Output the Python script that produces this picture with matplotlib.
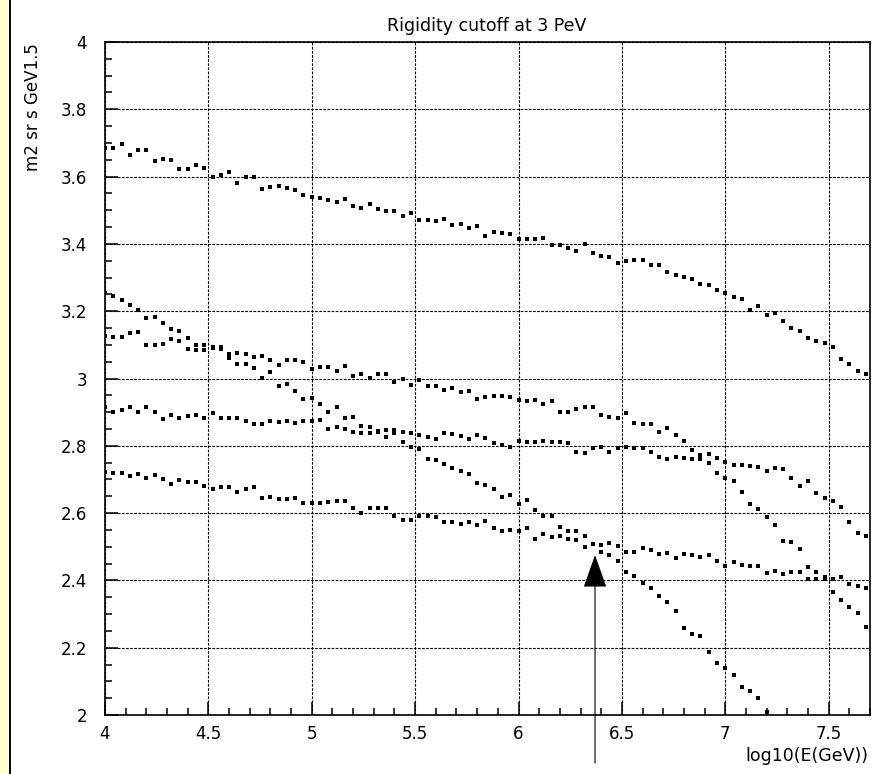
import numpy as np
import matplotlib
matplotlib.use("Agg")
from matplotlib import pyplot as plt
from matplotlib.patches import Rectangle, FancyArrowPatch
from matplotlib.lines import Line2D
from matplotlib.ticker import MultipleLocator

# bin centres in log10(E/GeV), 0.04 wide, starting at 4.0
n_bins = 93
log_e = np.round(4.0 + 0.04 * np.arange(n_bins), 2)

# five curves of dots, one value per bin
curve_a = [3.684, 3.684, 3.696, 3.665, 3.678, 3.678, 3.645, 3.653, 3.648, 3.623,
           3.623, 3.634, 3.627, 3.599, 3.606, 3.613, 3.581, 3.598, 3.598, 3.563,
           3.570, 3.573, 3.565, 3.559, 3.544, 3.539, 3.535, 3.531, 3.524, 3.534,
           3.512, 3.507, 3.519, 3.504, 3.497, 3.497, 3.482, 3.492, 3.470, 3.470,
           3.469, 3.475, 3.456, 3.459, 3.446, 3.453, 3.423, 3.436, 3.433, 3.430,
           3.414, 3.415, 3.416, 3.417, 3.396, 3.396, 3.387, 3.379, 3.399, 3.372,
           3.364, 3.362, 3.342, 3.348, 3.351, 3.353, 3.337, 3.337, 3.316, 3.308,
           3.301, 3.295, 3.282, 3.278, 3.263, 3.253, 3.242, 3.237, 3.204, 3.215,
           3.190, 3.196, 3.171, 3.149, 3.142, 3.121, 3.112, 3.105, 3.095, 3.058,
           3.043, 3.022, 3.013]

curve_b = [3.253, 3.246, 3.233, 3.218, 3.203, 3.179, 3.183, 3.166, 3.148, 3.142,
           3.087, 3.085, 3.085, 3.092, 3.089, 3.060, 3.043, 3.042, 3.032, 3.002,
           3.018, 2.979, 2.983, 2.964, 2.938, 2.943, 2.923, 2.899, 2.916, 2.884,
           2.887, 2.860, 2.855, 2.845, 2.847, 2.847, 2.812, 2.797, 2.790, 2.761,
           2.757, 2.746, 2.733, 2.725, 2.716, 2.689, 2.684, 2.672, 2.647, 2.654,
           2.627, 2.639, 2.609, 2.592, 2.591, 2.560, 2.548, 2.547, 2.533, 2.507,
           2.483, 2.476, 2.459, 2.424, 2.414, 2.393, 2.377, 2.355, 2.335, 2.310,
           2.260, 2.241, 2.235, 2.186, 2.156, 2.141, 2.119, 2.084, 2.072, 2.052,
           2.008]

curve_c = [3.126, 3.122, 3.122, 3.134, 3.139, 3.101, 3.101, 3.103, 3.116, 3.112,
           3.120, 3.099, 3.101, 3.095, 3.095, 3.073, 3.075, 3.072, 3.063, 3.067,
           3.055, 3.040, 3.054, 3.054, 3.048, 3.027, 3.035, 3.035, 3.023, 3.038,
           3.008, 3.013, 3.002, 3.013, 3.013, 2.991, 2.998, 2.981, 2.996, 2.979,
           2.978, 2.966, 2.971, 2.961, 2.964, 2.938, 2.946, 2.949, 2.949, 2.946,
           2.936, 2.934, 2.936, 2.923, 2.934, 2.901, 2.899, 2.908, 2.916, 2.916,
           2.891, 2.885, 2.884, 2.896, 2.869, 2.865, 2.865, 2.842, 2.852, 2.831,
           2.815, 2.787, 2.773, 2.750, 2.720, 2.705, 2.696, 2.664, 2.628, 2.612,
           2.588, 2.565, 2.518, 2.515, 2.494, 2.403, 2.403, 2.405, 2.367, 2.341,
           2.322, 2.304, 2.261]

curve_d = [2.914, 2.899, 2.906, 2.916, 2.901, 2.916, 2.901, 2.880, 2.892, 2.884,
           2.890, 2.891, 2.884, 2.898, 2.884, 2.884, 2.884, 2.875, 2.864, 2.864,
           2.875, 2.872, 2.875, 2.869, 2.873, 2.875, 2.877, 2.850, 2.857, 2.850,
           2.841, 2.839, 2.839, 2.840, 2.825, 2.839, 2.840, 2.839, 2.832, 2.825,
           2.819, 2.837, 2.834, 2.830, 2.820, 2.832, 2.824, 2.807, 2.802, 2.797,
           2.815, 2.812, 2.810, 2.815, 2.810, 2.812, 2.809, 2.782, 2.780, 2.793,
           2.795, 2.782, 2.793, 2.795, 2.793, 2.793, 2.782, 2.768, 2.760, 2.768,
           2.765, 2.762, 2.761, 2.775, 2.765, 2.751, 2.743, 2.743, 2.740, 2.738,
           2.725, 2.735, 2.731, 2.705, 2.680, 2.695, 2.659, 2.644, 2.637, 2.617,
           2.573, 2.542, 2.533]

curve_e = [2.723, 2.720, 2.718, 2.710, 2.716, 2.703, 2.713, 2.701, 2.687, 2.698,
           2.691, 2.691, 2.681, 2.672, 2.677, 2.677, 2.662, 2.671, 2.679, 2.644,
           2.649, 2.641, 2.641, 2.644, 2.629, 2.631, 2.631, 2.632, 2.637, 2.636,
           2.616, 2.599, 2.616, 2.614, 2.614, 2.592, 2.580, 2.580, 2.592, 2.592,
           2.587, 2.573, 2.573, 2.568, 2.573, 2.565, 2.577, 2.555, 2.547, 2.550,
           2.548, 2.556, 2.524, 2.537, 2.529, 2.533, 2.522, 2.520, 2.498, 2.507,
           2.505, 2.510, 2.502, 2.485, 2.485, 2.495, 2.490, 2.478, 2.480, 2.468,
           2.477, 2.474, 2.471, 2.474, 2.458, 2.443, 2.454, 2.446, 2.443, 2.443,
           2.421, 2.428, 2.419, 2.426, 2.424, 2.439, 2.424, 2.409, 2.403, 2.409,
           2.388, 2.383, 2.377]

curves = [curve_a, curve_b, curve_c, curve_d, curve_e]

x_ticks = [4, 4.5, 5, 5.5, 6, 6.5, 7, 7.5]
x_tick_labels = ['4', '4.5', '5', '5.5', '6', '6.5', '7', '7.5']
y_ticks = [2, 2.2, 2.4, 2.6, 2.8, 3, 3.2, 3.4, 3.6, 3.8, 4]
y_tick_labels = ['2', '2.2', '2.4', '2.6', '2.8', '3', '3.2', '3.4', '3.6', '3.8', '4']

# the cutoff arrow
arrow_x = 6.37
arrow_tip = 2.475
arrow_tail = 1.857

W, H = 877, 774
fig = plt.figure(figsize=(W / 100, H / 100), dpi=100)
fig.patch.set_facecolor('white')

# yellow strip down the left edge, with a black rule
fig.patches.append(Rectangle((0, 0), 8 / W, 1, transform=fig.transFigure,
                             facecolor='#ffffcc', edgecolor='none'))
fig.lines.append(Line2D([9.5 / W, 9.5 / W], [0, 1], transform=fig.transFigure,
                        color='black', lw=1.4))

ax = fig.add_axes([105 / W, 1 - 715 / H, 765 / W, 673 / H])
for yv in curves:
    ax.plot(log_e[:len(yv)], yv, linestyle='none', marker='s',
            markersize=2.3, color='black', markeredgewidth=0)

ax.set_xlim(4, 7.7)
ax.set_ylim(2, 4)
ax.set_xticks(x_ticks)
ax.set_xticklabels(x_tick_labels)
ax.set_yticks(y_ticks)
ax.set_yticklabels(y_tick_labels)
ax.xaxis.set_minor_locator(MultipleLocator(0.1))
ax.yaxis.set_minor_locator(MultipleLocator(0.05))
ax.tick_params(which='both', direction='in', top=False, right=False,
               width=1.1, color='black', labelsize=12)
ax.tick_params(which='major', length=9.5)
ax.tick_params(which='minor', length=5)
ax.tick_params(axis='y', pad=13)
ax.tick_params(axis='x', pad=7)
ax.grid(True, which='major', color='black', linestyle=(0, (2.4, 1.3)), lw=0.8)
for s in ax.spines.values():
    s.set_linewidth(1.2)

arrow = FancyArrowPatch((arrow_x, arrow_tail), (arrow_x, arrow_tip),
                        arrowstyle='-|>,head_length=21,head_width=7.5',
                        mutation_scale=1, color='black', lw=0.8,
                        shrinkA=0, shrinkB=0, clip_on=False)
ax.add_patch(arrow)

fig.text(487 / W, 1 - 26 / H, 'Rigidity cutoff at 3 PeV', ha='center', va='center',
         fontsize=12.5)
fig.text(868 / W, 1 - 756 / H, 'log10(E(GeV))', ha='right', va='center', fontsize=12.5)
fig.text(33 / W, 1 - 43 / H, 'm2 sr s GeV1.5', rotation=90, ha='center', va='top',
         fontsize=12)

fig.savefig('out.png', dpi=100)
